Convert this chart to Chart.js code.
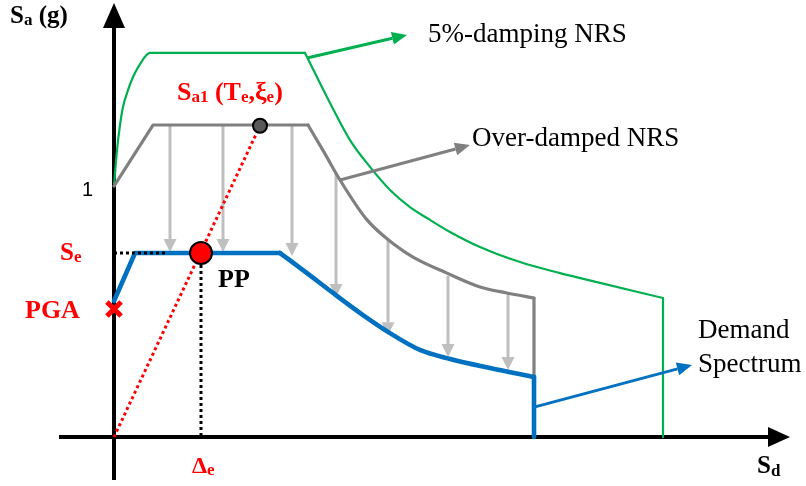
<!DOCTYPE html>
<html>
<head>
<meta charset="utf-8">
<script src="https://cdn.jsdelivr.net/npm/chart.js@4/dist/chart.umd.min.js"></script>
<style>
  html, body { margin: 0; padding: 0; background: #ffffff; }
  #wrap { width: 806px; height: 486px; }
</style>
</head>
<body>
<div id="wrap"><canvas id="chart" width="806" height="486"></canvas></div>
<script>
// Spectral displacement Sd (x) and spectral acceleration Sa in g (y).
// Each spectrum is split into pieces: straight runs and smooth curved runs.

// 5%-damping NRS
const nrs5RiseSd = [0, 0.03, 0.06, 0.09, 0.14, 0.19, 0.26, 0.36, 1.91];
const nrs5RiseSa = [1.00, 1.143, 1.243, 1.315, 1.382, 1.434, 1.486, 1.530, 1.530];
const nrs5FallSd = [1.91, 2.16, 2.36, 2.56, 2.76, 2.96, 3.16, 3.36, 3.66, 4.06, 4.46, 4.86, 5.49];
const nrs5FallSa = [1.530, 1.331, 1.183, 1.076, 0.984, 0.916, 0.865, 0.817, 0.757, 0.697, 0.653, 0.614, 0.554];
const nrs5EndSd = [5.49, 5.49];
const nrs5EndSa = [0.554, 0];

// Over-damped NRS
const overRiseSd = [0, 0.39, 1.94];
const overRiseSa = [1.00, 1.243, 1.243];
const overFallSd = [1.94, 2.10, 2.26, 2.53, 2.81, 2.99, 3.33, 3.66, 3.93, 4.20];
const overFallSa = [1.243, 1.135, 1.024, 0.865, 0.765, 0.717, 0.653, 0.598, 0.574, 0.554];
const overEndSd = [4.20, 4.20];
const overEndSa = [0.554, 0.239];

// Demand spectrum
const demRiseSd = [0, 0.21, 1.66];
const demRiseSa = [0.542, 0.733, 0.733];
const demFallSd = [1.66, 1.93, 2.19, 2.49, 2.76, 3.06, 3.36, 3.76, 4.20];
const demFallSa = [0.733, 0.653, 0.574, 0.486, 0.414, 0.347, 0.311, 0.275, 0.239];
const demEndSd = [4.20, 4.20];
const demEndSa = [0.239, 0];

// Damping reduction arrows (over-damped NRS -> demand spectrum)
const reduceSd   = [0.56, 1.09, 1.78, 2.22, 2.74, 3.34, 3.94];
const reduceFrom = [1.243, 1.243, 1.243, 1.050, 0.790, 0.643, 0.570];
const reduceTo   = [0.737, 0.737, 0.721, 0.558, 0.406, 0.319, 0.267];

// Key points
const pga = [0, 0.51];
const sa1Point = [1.46, 1.24];
const perfPoint = [0.87, 0.733];
const seDottedSd = [0, 0.53];

const pts = (xs, ys) => xs.map((x, i) => ({ x: x, y: ys[i] }));

function piece(xs, ys, color, width, curved, order) {
  return {
    data: pts(xs, ys),
    showLine: true,
    borderColor: color,
    borderWidth: width,
    pointRadius: 0,
    fill: false,
    tension: 0,
    cubicInterpolationMode: curved ? 'monotone' : 'default',
    borderJoinStyle: 'round',
    borderCapStyle: 'round',
    order: order
  };
}

const GREEN = '#00b050', GRAY = '#808080', BLUE = '#0070c0', RED = '#ff0000';

const datasets = [
  piece(nrs5RiseSd, nrs5RiseSa, GREEN, 2.2, true, 20),
  piece(nrs5FallSd, nrs5FallSa, GREEN, 2.2, true, 20),
  piece(nrs5EndSd, nrs5EndSa, GREEN, 2.2, false, 20),
  piece(overRiseSd, overRiseSa, GRAY, 3.2, false, 18),
  piece(overFallSd, overFallSa, GRAY, 3.2, true, 18),
  piece(overEndSd, overEndSa, GRAY, 3.2, false, 18),
  piece(demRiseSd, demRiseSa, BLUE, 4.6, false, 16),
  piece(demFallSd, demFallSa, BLUE, 4.6, true, 16),
  piece(demEndSd, demEndSa, BLUE, 4.6, false, 16),
  { // secant from origin to Sa1
    data: pts([0, sa1Point[0]], [0, sa1Point[1]]),
    showLine: true, borderColor: RED, borderWidth: 3, borderDash: [3, 3],
    pointRadius: 0, fill: false, order: 12
  },
  { // Se level
    data: pts(seDottedSd, [perfPoint[1], perfPoint[1]]),
    showLine: true, borderColor: '#000000', borderWidth: 3, borderDash: [3, 3],
    pointRadius: 0, fill: false, order: 10
  },
  { // Δe drop line
    data: pts([perfPoint[0], perfPoint[0]], [perfPoint[1], 0]),
    showLine: true, borderColor: '#000000', borderWidth: 3, borderDash: [3, 3],
    pointRadius: 0, fill: false, order: 10
  },
  {
    data: [{ x: pga[0], y: pga[1] }],
    pointStyle: 'crossRot', pointRadius: 10, borderColor: RED, borderWidth: 5,
    order: 6
  },
  {
    data: [{ x: sa1Point[0], y: sa1Point[1] }],
    pointStyle: 'circle', pointRadius: 7, backgroundColor: '#595959',
    borderColor: '#000000', borderWidth: 2, order: 5
  },
  {
    data: [{ x: perfPoint[0], y: perfPoint[1] }],
    pointStyle: 'circle', pointRadius: 11, backgroundColor: RED,
    borderColor: '#000000', borderWidth: 2, order: 4
  }
];

function arrow(ctx, x1, y1, x2, y2, color, width, headLen, headHalf) {
  const a = Math.atan2(y2 - y1, x2 - x1);
  const bx = x2 - headLen * Math.cos(a), by = y2 - headLen * Math.sin(a);
  ctx.save();
  ctx.strokeStyle = color;
  ctx.lineWidth = width;
  ctx.lineCap = 'butt';
  ctx.beginPath();
  ctx.moveTo(x1, y1);
  ctx.lineTo(bx, by);
  ctx.stroke();
  ctx.fillStyle = color;
  ctx.beginPath();
  ctx.moveTo(x2, y2);
  ctx.lineTo(bx + headHalf * Math.sin(a), by - headHalf * Math.cos(a));
  ctx.lineTo(bx - headHalf * Math.sin(a), by + headHalf * Math.cos(a));
  ctx.closePath();
  ctx.fill();
  ctx.restore();
}

function rich(ctx, parts, x, y, color) {
  let cx = x;
  ctx.save();
  ctx.fillStyle = color;
  ctx.textBaseline = 'alphabetic';
  ctx.textAlign = 'left';
  for (const p of parts) {
    ctx.font = (p.b === false ? '' : 'bold ') + p.s + 'px "Liberation Serif", "Times New Roman", serif';
    ctx.fillText(p.t, cx, y + (p.dy || 0));
    cx += ctx.measureText(p.t).width;
  }
  ctx.restore();
}

const diagram = {
  id: 'diagram',
  beforeDatasetsDraw(chart) {
    const { ctx, scales: { x, y } } = chart;
    const X = v => x.getPixelForValue(v), Y = v => y.getPixelForValue(v);
    // axes with arrow heads
    arrow(ctx, X(0), Y(-0.171), X(0), Y(1.729), '#000000', 4, 25, 11);
    arrow(ctx, X(-0.55), Y(0), X(6.76), Y(0), '#000000', 4, 22, 10);
    // damping reduction arrows
    reduceSd.forEach((sd, i) => {
      arrow(ctx, X(sd), Y(reduceFrom[i]), X(sd), Y(reduceTo[i]), '#bfbfbf', 3, 13, 6.5);
    });
  },
  afterDatasetsDraw(chart) {
    const { ctx, scales: { x, y } } = chart;
    const X = v => x.getPixelForValue(v), Y = v => y.getPixelForValue(v);
    // leader arrows to the curve names
    arrow(ctx, X(1.93), Y(1.51), X(2.93), Y(1.602), GREEN, 3, 15, 6.5);
    arrow(ctx, X(2.26), Y(1.024), X(3.56), Y(1.163), GRAY, 3, 15, 6.5);
    arrow(ctx, X(4.21), Y(0.12), X(5.78), Y(0.287), BLUE, 3, 15, 6.5);

    // axis titles
    rich(ctx, [{ t: 'S', s: 25 }, { t: 'a', s: 17, dy: 2 }, { t: ' (g)', s: 25 }], X(-1.04), Y(1.649), '#000000');
    rich(ctx, [{ t: 'S', s: 25 }, { t: 'd', s: 17, dy: 3 }], X(6.43), Y(-0.143), '#000000');

    // tick at Sa = 1
    ctx.save();
    ctx.fillStyle = '#000000';
    ctx.font = '20px "Liberation Sans", Arial, sans-serif';
    ctx.textAlign = 'right';
    ctx.textBaseline = 'alphabetic';
    ctx.fillText('1', X(-0.21), Y(0.96));
    ctx.restore();

    // point labels
    rich(ctx, [{ t: 'S', s: 25 }, { t: 'e', s: 17, dy: 2 }], X(-0.54), Y(0.705), RED);
    rich(ctx, [{ t: 'PGA', s: 26 }], X(-0.89), Y(0.474), RED);
    rich(ctx, [{ t: 'PP', s: 26 }], X(1.04), Y(0.598), '#000000');
    rich(ctx, [{ t: 'Δ', s: 24 }, { t: 'e', s: 17, dy: 2 }], X(0.78), Y(-0.143), RED);
    rich(ctx, [
      { t: 'S', s: 26 }, { t: 'a1', s: 17, dy: 2 }, { t: ' (T', s: 26 },
      { t: 'e', s: 17, dy: 2 }, { t: ',ξ', s: 26 }, { t: 'e', s: 17, dy: 2 }, { t: ')', s: 26 }
    ], X(0.63), Y(1.343), RED);

    // curve names
    rich(ctx, [{ t: '5%-damping NRS', s: 27, b: false }], X(3.14), Y(1.574), '#000000');
    rich(ctx, [{ t: 'Over-damped NRS', s: 27, b: false }], X(3.58), Y(1.159), '#000000');
    rich(ctx, [{ t: 'Demand', s: 27, b: false }], X(5.84), Y(0.394), '#000000');
    rich(ctx, [{ t: 'Spectrum', s: 27, b: false }], X(5.84), Y(0.259), '#000000');
  }
};

new Chart(document.getElementById('chart').getContext('2d'), {
  type: 'scatter',
  data: { datasets: datasets },
  options: {
    responsive: false,
    animation: false,
    events: [],
    layout: { padding: 0, autoPadding: false },
    plugins: { legend: { display: false }, tooltip: { enabled: false } },
    scales: {
      x: { type: 'linear', display: false, min: -1.14, max: 6.92 },
      y: { type: 'linear', display: false, min: -0.195, max: 1.741 }
    }
  },
  plugins: [diagram]
});
</script>
</body>
</html>
